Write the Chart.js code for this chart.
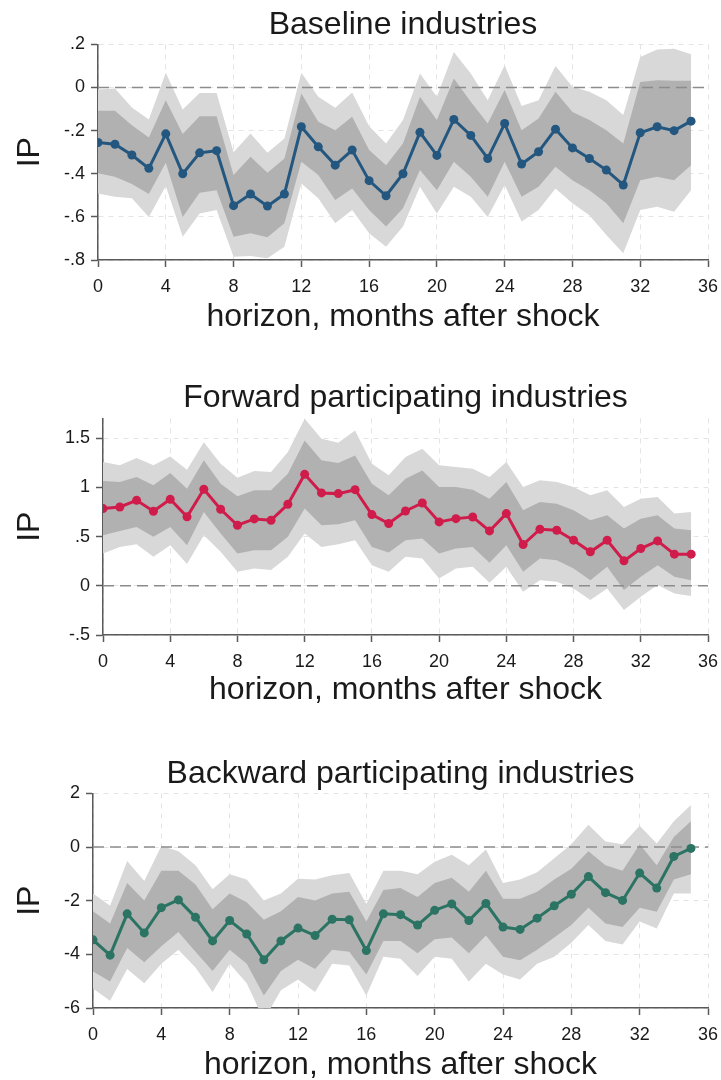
<!DOCTYPE html>
<html>
<head>
<meta charset="utf-8">
<script src="https://cdn.jsdelivr.net/npm/chart.js@4.4.1/dist/chart.umd.min.js"></script>
<style>
  html, body { margin: 0; padding: 0; background: #fff; overflow: hidden; }
  canvas { position: absolute; left: 0; }
</style>
</head>
<body>
<canvas id="chartBase" width="721" height="345" style="top:0px"></canvas>
<canvas id="chartFwd" width="721" height="375" style="top:345px"></canvas>
<canvas id="chartBwd" width="721" height="366" style="top:718px"></canvas>
<script>
// horizon (months after shock)
const horizon = [0,1,2,3,4,5,6,7,8,9,10,11,12,13,14,15,16,17,18,19,20,21,22,23,24,25,26,27,28,29,30,31,32,33,34,35];
const xTicks = [0,4,8,12,16,20,24,28,32,36];

// Baseline industries
const baseIrf  = [-0.255,-0.263,-0.313,-0.375,-0.215,-0.40,-0.303,-0.293,-0.548,-0.494,-0.55,-0.494,-0.182,-0.275,-0.36,-0.29,-0.432,-0.502,-0.40,-0.208,-0.315,-0.148,-0.222,-0.329,-0.167,-0.355,-0.298,-0.193,-0.28,-0.329,-0.383,-0.452,-0.21,-0.182,-0.20,-0.156];
const baseHi90 = [-0.009,-0.005,-0.093,-0.148,0.068,-0.102,-0.025,-0.025,-0.30,-0.213,-0.303,-0.236,0.068,-0.043,-0.094,-0.023,-0.18,-0.26,-0.151,0.065,-0.043,0.165,0.065,-0.059,0.103,-0.086,-0.059,0.10,0.003,-0.02,-0.059,-0.128,0.142,0.176,0.18,0.154];
const baseHi68 = [-0.108,-0.108,-0.175,-0.232,-0.059,-0.216,-0.133,-0.133,-0.406,-0.321,-0.395,-0.329,-0.028,-0.159,-0.198,-0.136,-0.29,-0.36,-0.26,-0.043,-0.151,0.042,-0.066,-0.167,-0.012,-0.198,-0.144,-0.02,-0.113,-0.151,-0.198,-0.26,0.026,0.034,0.031,0.031];
const baseLo68 = [-0.398,-0.414,-0.448,-0.494,-0.349,-0.60,-0.488,-0.476,-0.692,-0.676,-0.695,-0.63,-0.344,-0.406,-0.522,-0.468,-0.568,-0.645,-0.56,-0.383,-0.476,-0.344,-0.414,-0.507,-0.344,-0.507,-0.46,-0.368,-0.43,-0.476,-0.537,-0.63,-0.43,-0.414,-0.43,-0.36];
const baseLo90 = [-0.491,-0.507,-0.514,-0.60,-0.457,-0.692,-0.584,-0.568,-0.785,-0.781,-0.792,-0.738,-0.445,-0.514,-0.63,-0.568,-0.676,-0.738,-0.645,-0.46,-0.584,-0.46,-0.507,-0.60,-0.452,-0.622,-0.568,-0.468,-0.537,-0.592,-0.684,-0.769,-0.568,-0.553,-0.576,-0.476];
const baseTicks = [-0.8,-0.6,-0.4,-0.2,0,0.2];
const baseTickLabels = ['-.8','-.6','-.4','-.2','0','.2'];

// Forward participating industries
const fwdIrf  = [0.784,0.80,0.868,0.757,0.878,0.70,0.98,0.777,0.615,0.679,0.666,0.828,1.132,0.943,0.936,0.976,0.723,0.632,0.76,0.841,0.649,0.682,0.699,0.557,0.733,0.419,0.574,0.564,0.463,0.345,0.463,0.253,0.378,0.456,0.321,0.321];
const fwdHi90 = [1.257,1.223,1.297,1.223,1.314,1.179,1.459,1.24,1.098,1.166,1.155,1.358,1.696,1.493,1.453,1.578,1.24,1.122,1.307,1.392,1.223,1.206,1.189,1.105,1.257,1.003,1.071,1.054,1.003,0.919,0.97,0.80,0.885,0.902,0.733,0.75];
const fwdHi68 = [1.064,1.054,1.105,1.02,1.145,0.986,1.274,1.037,0.909,0.97,0.97,1.139,1.476,1.274,1.247,1.324,1.037,0.919,1.088,1.172,1.003,1.003,0.976,0.885,1.054,0.767,0.851,0.834,0.767,0.666,0.716,0.581,0.682,0.716,0.581,0.564];
const fwdLo68 = [0.514,0.557,0.598,0.497,0.598,0.412,0.75,0.53,0.328,0.361,0.361,0.497,0.784,0.615,0.625,0.666,0.395,0.338,0.463,0.48,0.328,0.378,0.395,0.233,0.412,0.142,0.277,0.26,0.176,0.057,0.193,-0.044,0.091,0.209,0.091,0.057];
const fwdLo90 = [0.328,0.395,0.422,0.294,0.412,0.22,0.514,0.345,0.142,0.176,0.159,0.294,0.53,0.395,0.422,0.463,0.209,0.142,0.294,0.277,0.074,0.176,0.193,0.03,0.193,-0.061,0.057,0.04,-0.027,-0.145,-0.027,-0.247,-0.111,0.007,-0.078,-0.105];
const fwdTicks = [-0.5,0,0.5,1,1.5];
const fwdTickLabels = ['-.5','0','.5','1','1.5'];

// Backward participating industries
const bwdIrf  = [-3.46,-4.03,-2.49,-3.2,-2.26,-1.97,-2.62,-3.5,-2.74,-3.24,-4.2,-3.5,-3.02,-3.3,-2.69,-2.71,-3.86,-2.49,-2.52,-2.91,-2.36,-2.12,-2.74,-2.10,-2.98,-3.07,-2.65,-2.19,-1.76,-1.10,-1.70,-1.99,-0.97,-1.53,-0.35,-0.05];
const bwdHi90 = [-1.73,-2.19,-0.52,-1.27,0.04,-0.16,-0.68,-1.57,-1.01,-1.21,-1.99,-1.73,-1.18,-1.21,-1.05,-0.97,-2.12,-0.88,-0.88,-1.01,-0.55,-0.29,-0.68,-0.09,-1.34,-1.21,-0.94,-0.42,0.10,0.83,0.21,0.10,0.79,0.13,0.96,1.57];
const bwdHi68 = [-2.39,-2.85,-1.34,-1.99,-0.88,-0.88,-1.40,-2.32,-1.73,-2.06,-2.71,-2.39,-1.86,-1.99,-1.73,-1.67,-2.78,-1.60,-1.53,-1.86,-1.34,-1.14,-1.67,-0.88,-1.93,-1.93,-1.67,-1.21,-0.81,-0.16,-0.68,-0.88,0.10,-0.68,0.37,0.96];
const bwdLo68 = [-4.64,-5.01,-3.76,-4.29,-3.70,-3.17,-3.90,-4.62,-3.83,-4.35,-5.53,-4.62,-4.20,-4.55,-3.83,-3.90,-4.75,-3.50,-3.50,-3.96,-3.44,-3.37,-3.96,-3.30,-4.09,-4.22,-3.83,-3.37,-2.91,-2.26,-2.85,-2.98,-2.26,-2.41,-1.21,-1.01];
const bwdLo90 = [-5.27,-5.73,-4.55,-5.08,-4.35,-3.83,-4.49,-5.40,-4.35,-5.08,-6.45,-5.34,-4.94,-5.40,-4.35,-4.42,-5.53,-4.09,-4.16,-4.81,-4.09,-4.16,-5.01,-4.35,-4.75,-4.94,-4.35,-4.09,-3.57,-2.91,-3.50,-3.63,-2.78,-3.04,-1.73,-1.73];
const bwdTicks = [-6,-4,-2,0,2];
const bwdTickLabels = ['-6','-4','-2','0','2'];

(() => {
  'use strict'
  const FONT = "'Liberation Sans', Arial, sans-serif";
  const AXIS = '#5a5a5a';

  const pts = (arr) => horizon.map((h, i) => ({ x: h, y: arr[i] }));
  const band = (arr, color, fill) => ({
    data: pts(arr), borderWidth: 0, pointRadius: 0, backgroundColor: color, fill: fill
  });

  const createChart = (ctx, cfg) => {
    new Chart(ctx, {
      type: 'line',
      data: {
        datasets: [
          { // estimate
            data: pts(cfg.irf), borderColor: cfg.color, backgroundColor: cfg.color,
            borderWidth: 3, pointRadius: 4.5, pointBackgroundColor: cfg.color,
            pointBorderWidth: 0, tension: 0, fill: false
          },
          { // zero line, on top of the bands
            data: [{ x: xTicks[0], y: 0 }, { x: xTicks[xTicks.length - 1], y: 0 }],
            borderColor: '#8c8c8c', borderWidth: 1.5, borderDash: [11, 6],
            pointRadius: 0, fill: false
          },
          band(cfg.hi68, '#b1b1b1', '+1'),
          band(cfg.lo68, '#b1b1b1', false),
          band(cfg.hi90, '#d8d8d8', '+1'),
          band(cfg.lo90, '#d8d8d8', false)
        ]
      },
      options: {
        responsive: false,
        animation: false,
        layout: { padding: { left: 0, right: 13, top: 0, bottom: 0 } },
        plugins: {
          legend: { display: false },
          tooltip: { enabled: false },
          title: {
            display: true, text: cfg.title, color: '#1a1a1a', fullSize: false, // centré sur la zone du graphe
            font: { family: FONT, size: 32, weight: 'normal' },
            padding: cfg.titlePad
          }
        },
        scales: {
          x: {
            type: 'linear', min: xTicks[0], max: xTicks[xTicks.length - 1],
            afterBuildTicks: (s) => { s.ticks = xTicks.map(v => ({ value: v })) },
            afterFit: (s) => { s.height = cfg.xHeight; s.paddingLeft = 0; s.paddingRight = 0 },
            grid: { color: '#e4e4e4', lineWidth: 1, tickLength: 7, tickColor: AXIS, tickWidth: 1.5, tickBorderDash: [] },
            border: { color: AXIS, width: 1.5, dash: [5, 5] },
            ticks: { color: '#1a1a1a', padding: 9, maxRotation: 0, font: { family: FONT, size: 18 } },
            title: {
              display: true, text: 'horizon, months after shock', color: '#1a1a1a',
              font: { family: FONT, size: 32 }, padding: { top: 0, bottom: cfg.xTitlePad }
            }
          },
          y: {
            min: cfg.ticks[0], max: cfg.ymax,
            afterBuildTicks: (s) => { s.ticks = cfg.ticks.map(v => ({ value: v })) },
            afterFit: (s) => { s.width = cfg.yWidth; s.paddingTop = 0; s.paddingBottom = 0 },
            grid: { color: '#e4e4e4', lineWidth: 1, tickLength: 7, tickColor: AXIS, tickWidth: 1.5, tickBorderDash: [] },
            border: { color: AXIS, width: 1.5, dash: [5, 5] },
            ticks: {
              color: '#1a1a1a', padding: 6, font: { family: FONT, size: 18 },
              callback: (v) => cfg.labels[cfg.ticks.indexOf(v)]
            },
            title: {
              display: true, text: 'IP', color: '#1a1a1a',
              font: { family: FONT, size: 32 }, padding: { top: 11, bottom: 0 }
            }
          }
        }
      }
    })
  };

  createChart(document.getElementById('chartBase'), {
    title: 'Baseline industries', color: '#24577f',
    irf: baseIrf, hi90: baseHi90, hi68: baseHi68, lo68: baseLo68, lo90: baseLo90,
    ticks: baseTicks, labels: baseTickLabels, ymax: 0.2,
    yWidth: 98, xHeight: 85, xTitlePad: 9, titlePad: { top: 6, bottom: 0 }
  });
  createChart(document.getElementById('chartFwd'), {
    title: 'Forward participating industries', color: '#d01c4b',
    irf: fwdIrf, hi90: fwdHi90, hi68: fwdHi68, lo68: fwdLo68, lo90: fwdLo90,
    ticks: fwdTicks, labels: fwdTickLabels, ymax: 1.7,
    yWidth: 103, xHeight: 85, xTitlePad: 11, titlePad: { top: 34, bottom: 1 }
  });
  createChart(document.getElementById('chartBwd'), {
    title: 'Backward participating industries', color: '#2b7363',
    irf: bwdIrf, hi90: bwdHi90, hi68: bwdHi68, lo68: bwdLo68, lo90: bwdLo90,
    ticks: bwdTicks, labels: bwdTickLabels, ymax: 2,
    yWidth: 93, xHeight: 76, xTitlePad: 0, titlePad: { top: 37, bottom: 0 }
  });
})();
</script>
</body>
</html>
